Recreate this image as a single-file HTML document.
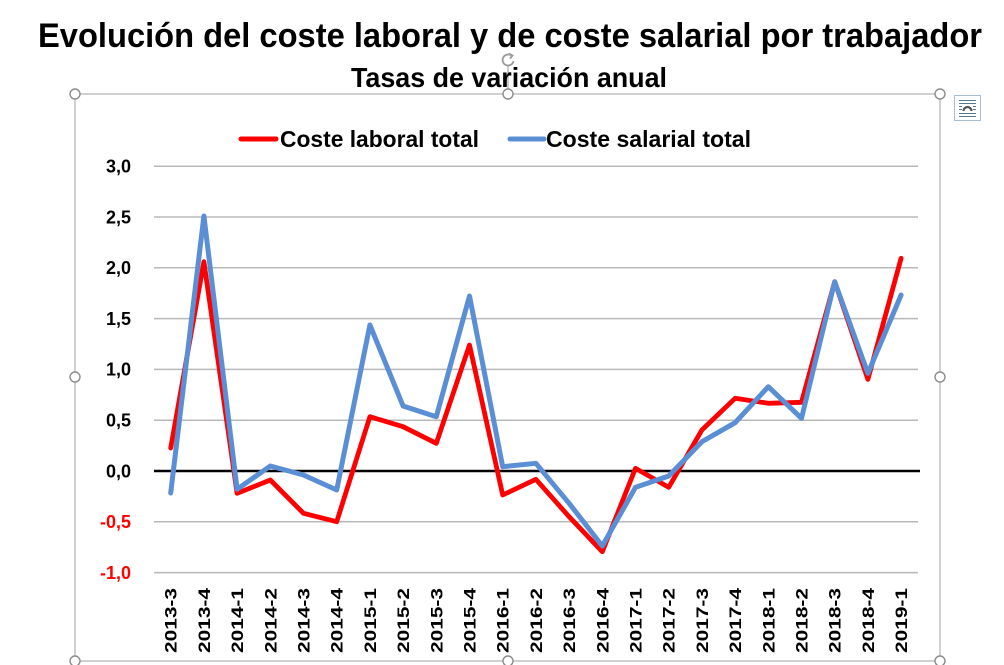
<!DOCTYPE html>
<html>
<head>
<meta charset="utf-8">
<style>
html,body{margin:0;padding:0;background:#fff;}
svg{display:block;}
text{font-family:"Liberation Sans", Arial, sans-serif;font-weight:bold;}
</style>
</head>
<body>
<svg width="1004" height="665" viewBox="0 0 1004 665" xmlns="http://www.w3.org/2000/svg">
<rect width="1004" height="665" fill="#fff"/>

<!-- Title -->
<text x="38" y="47" font-size="34" textLength="944" lengthAdjust="spacingAndGlyphs" fill="#000">Evolución del coste laboral y de coste salarial por trabajador</text>

<!-- rotate handle connector -->
<line x1="508" y1="66" x2="508" y2="89" stroke="#9a9a9a" stroke-width="1"/>

<text x="351" y="87" font-size="28" textLength="316" lengthAdjust="spacingAndGlyphs" fill="#000">Tasas de variación anual</text>

<!-- rotate icon -->
<g fill="none" stroke="#9a9a9a" stroke-width="1.8">
  <path d="M513.5 61 A5.5 5.5 0 1 1 511 55.3"/>
  <path d="M509 53.5 L512.5 55.5 L510 58.5"/>
</g>

<!-- Frame -->
<rect x="75" y="94" width="865" height="567" fill="none" stroke="#a0a0a0" stroke-width="1"/>

<!-- Legend -->
<line x1="241" y1="139" x2="276" y2="139" stroke="#ff0000" stroke-width="5" stroke-linecap="round"/>
<text x="280" y="147" font-size="23" textLength="199" lengthAdjust="spacingAndGlyphs" fill="#000">Coste laboral total</text>
<line x1="510" y1="139" x2="544" y2="139" stroke="#5b8fd5" stroke-width="5" stroke-linecap="round"/>
<text x="546" y="147" font-size="23" textLength="205" lengthAdjust="spacingAndGlyphs" fill="#000">Coste salarial total</text>

<!-- Gridlines -->
<g stroke="#b8b8b8" stroke-width="1.5">
  <line x1="154" y1="166.2" x2="918" y2="166.2"/>
  <line x1="154" y1="217" x2="918" y2="217"/>
  <line x1="154" y1="267.8" x2="918" y2="267.8"/>
  <line x1="154" y1="318.6" x2="918" y2="318.6"/>
  <line x1="154" y1="369.4" x2="918" y2="369.4"/>
  <line x1="154" y1="420.2" x2="918" y2="420.2"/>
  <line x1="154" y1="521.8" x2="918" y2="521.8"/>
  <line x1="154" y1="572.6" x2="918" y2="572.6"/>
</g>
<line x1="154" y1="471" x2="920" y2="471" stroke="#000" stroke-width="2.5"/>

<!-- Y labels -->
<g font-size="18" text-anchor="end">
  <text x="131" y="172.5" fill="#000">3,0</text>
  <text x="131" y="223.3" fill="#000">2,5</text>
  <text x="131" y="274.1" fill="#000">2,0</text>
  <text x="131" y="324.9" fill="#000">1,5</text>
  <text x="131" y="375.7" fill="#000">1,0</text>
  <text x="131" y="426.5" fill="#000">0,5</text>
  <text x="131" y="477.3" fill="#000">0,0</text>
  <text x="131" y="528.1" fill="#ff0000">-0,5</text>
  <text x="131" y="578.9" fill="#ff0000">-1,0</text>
</g>

<!-- Series -->
<polyline fill="none" stroke="#ff0000" stroke-width="4.8" stroke-linejoin="round" stroke-linecap="round"
 points="170.7,448 203.9,261.7 237.1,493.3 270.3,480 303.5,513.3 336.7,521.7 369.9,416.7 403.1,426.7 436.3,443.3 469.5,345 502.7,495 535.9,479.3 569.1,516.7 602.3,551.7 635.5,468.3 668.7,487.3 701.9,430 735.1,398.3 768.3,403.3 801.5,402.3 834.7,281.7 867.9,379.3 901.1,258.3"/>
<polyline fill="none" stroke="#5b8fd5" stroke-width="5" stroke-linejoin="round" stroke-linecap="round"
 points="170.7,493 203.9,216 237.1,489.3 270.3,466 303.5,475 336.7,490 369.9,325 403.1,406 436.3,416.7 469.5,296 502.7,466.7 535.9,463.3 569.1,503.3 602.3,546 635.5,487.3 668.7,476 701.9,441.7 735.1,422.7 768.3,386.7 801.5,418.3 834.7,281.7 867.9,373.3 901.1,295"/>

<!-- X labels -->
<g font-size="17" text-anchor="end" fill="#000">
  <text transform="translate(176.7,588) rotate(-90)" textLength="65" lengthAdjust="spacingAndGlyphs">2013-3</text>
  <text transform="translate(209.9,588) rotate(-90)" textLength="65" lengthAdjust="spacingAndGlyphs">2013-4</text>
  <text transform="translate(243.1,588) rotate(-90)" textLength="65" lengthAdjust="spacingAndGlyphs">2014-1</text>
  <text transform="translate(276.3,588) rotate(-90)" textLength="65" lengthAdjust="spacingAndGlyphs">2014-2</text>
  <text transform="translate(309.5,588) rotate(-90)" textLength="65" lengthAdjust="spacingAndGlyphs">2014-3</text>
  <text transform="translate(342.7,588) rotate(-90)" textLength="65" lengthAdjust="spacingAndGlyphs">2014-4</text>
  <text transform="translate(375.9,588) rotate(-90)" textLength="65" lengthAdjust="spacingAndGlyphs">2015-1</text>
  <text transform="translate(409.1,588) rotate(-90)" textLength="65" lengthAdjust="spacingAndGlyphs">2015-2</text>
  <text transform="translate(442.3,588) rotate(-90)" textLength="65" lengthAdjust="spacingAndGlyphs">2015-3</text>
  <text transform="translate(475.5,588) rotate(-90)" textLength="65" lengthAdjust="spacingAndGlyphs">2015-4</text>
  <text transform="translate(508.7,588) rotate(-90)" textLength="65" lengthAdjust="spacingAndGlyphs">2016-1</text>
  <text transform="translate(541.9,588) rotate(-90)" textLength="65" lengthAdjust="spacingAndGlyphs">2016-2</text>
  <text transform="translate(575.1,588) rotate(-90)" textLength="65" lengthAdjust="spacingAndGlyphs">2016-3</text>
  <text transform="translate(608.3,588) rotate(-90)" textLength="65" lengthAdjust="spacingAndGlyphs">2016-4</text>
  <text transform="translate(641.5,588) rotate(-90)" textLength="65" lengthAdjust="spacingAndGlyphs">2017-1</text>
  <text transform="translate(674.7,588) rotate(-90)" textLength="65" lengthAdjust="spacingAndGlyphs">2017-2</text>
  <text transform="translate(707.9,588) rotate(-90)" textLength="65" lengthAdjust="spacingAndGlyphs">2017-3</text>
  <text transform="translate(741.1,588) rotate(-90)" textLength="65" lengthAdjust="spacingAndGlyphs">2017-4</text>
  <text transform="translate(774.3,588) rotate(-90)" textLength="65" lengthAdjust="spacingAndGlyphs">2018-1</text>
  <text transform="translate(807.5,588) rotate(-90)" textLength="65" lengthAdjust="spacingAndGlyphs">2018-2</text>
  <text transform="translate(840.7,588) rotate(-90)" textLength="65" lengthAdjust="spacingAndGlyphs">2018-3</text>
  <text transform="translate(873.9,588) rotate(-90)" textLength="65" lengthAdjust="spacingAndGlyphs">2018-4</text>
  <text transform="translate(907.1,588) rotate(-90)" textLength="65" lengthAdjust="spacingAndGlyphs">2019-1</text>
</g>

<!-- Handles -->
<g fill="#fff" stroke="#8c8c8c" stroke-width="1.4">
  <circle cx="75" cy="94" r="5"/>
  <circle cx="508" cy="94" r="5"/>
  <circle cx="940" cy="94" r="5"/>
  <circle cx="75" cy="377" r="5"/>
  <circle cx="940" cy="377" r="5"/>
  <circle cx="75" cy="661" r="5"/>
  <circle cx="508" cy="661" r="5"/>
  <circle cx="940" cy="661" r="5"/>
</g>

<!-- Layout options icon -->
<rect x="954.5" y="95.5" width="26" height="25" fill="#fff" stroke="#a9bdd2" stroke-width="1"/>
<g stroke="#5a7590" stroke-width="1">
  <line x1="959" y1="100.5" x2="976" y2="100.5"/>
  <line x1="959" y1="103.5" x2="976" y2="103.5"/>
  <line x1="959" y1="106.5" x2="962" y2="106.5"/>
  <line x1="973" y1="106.5" x2="976" y2="106.5"/>
  <line x1="959" y1="109.5" x2="962" y2="109.5"/>
  <line x1="973" y1="109.5" x2="976" y2="109.5"/>
  <line x1="959" y1="113.5" x2="976" y2="113.5"/>
  <line x1="959" y1="116.5" x2="976" y2="116.5"/>
</g>
<path d="M963.5 111 A4 4 0 0 1 971.5 111" fill="none" stroke="#555" stroke-width="2.2"/>
</svg>
</body>
</html>
